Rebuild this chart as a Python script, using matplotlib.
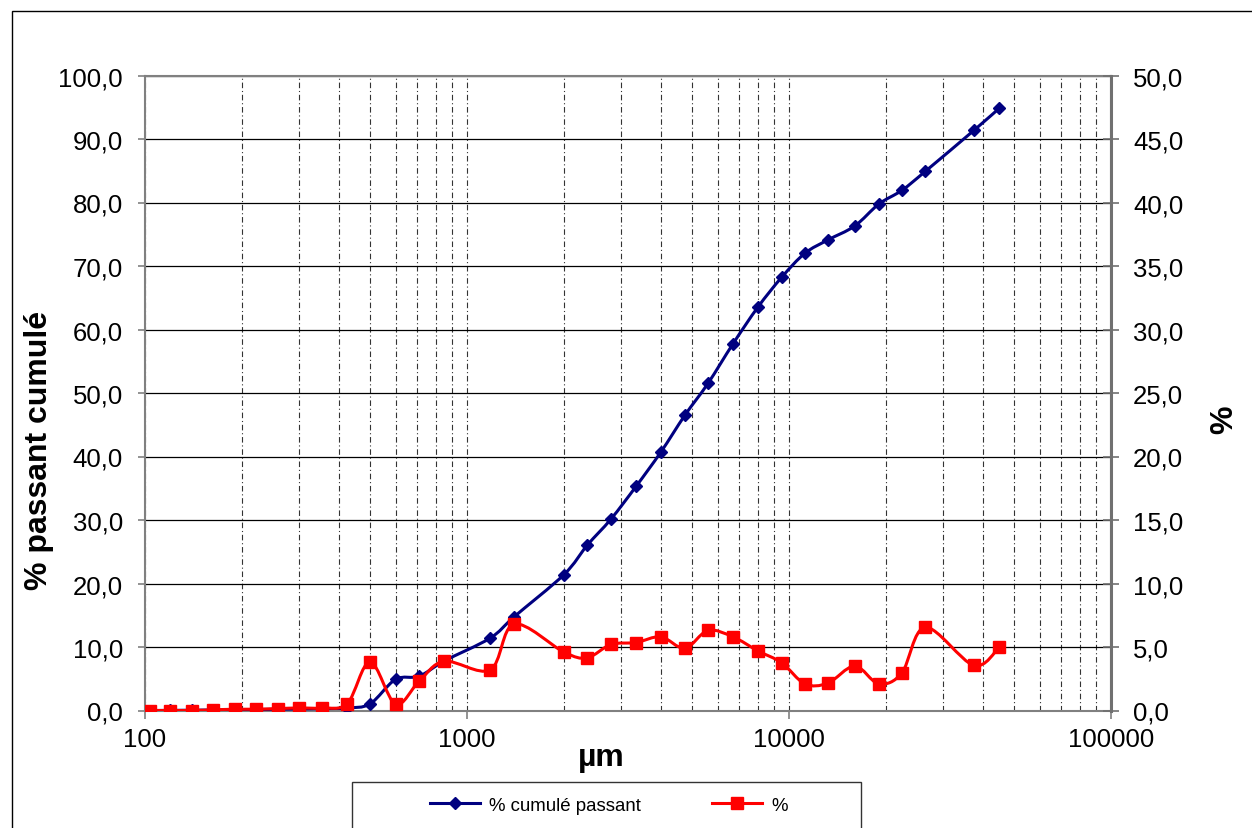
import numpy as np
import matplotlib.pyplot as plt
from matplotlib.path import Path
from matplotlib.patches import PathPatch, Rectangle
from matplotlib.lines import Line2D
from matplotlib.ticker import FixedLocator, FuncFormatter, NullFormatter

plt.rcParams['font.family'] = ['Liberation Sans', 'DejaVu Sans']

# sieve sizes (µm)
sizes = [104, 120, 140, 163, 190, 221, 258, 300, 355, 425, 500, 600, 710, 850,
         1180, 1400, 2000, 2360, 2800, 3350, 4000, 4750, 5600, 6700, 8000, 9500,
         11200, 13200, 16000, 19000, 22400, 26500, 37500, 45000]
# % cumulé passant (left axis)
cumul = [0.0, 0.02, 0.05, 0.08, 0.1, 0.15, 0.2, 0.25, 0.3, 0.4, 1.05, 4.9, 5.4, 7.8,
         11.4, 14.75, 21.4, 26.0, 30.15, 35.3, 40.7, 46.5, 51.5, 57.75, 63.5, 68.25,
         72.0, 74.1, 76.3, 79.75, 81.9, 84.9, 91.35, 94.85]
# % retained (right axis)
pct = [0.0, 0.0, 0.0, 0.05, 0.1, 0.1, 0.15, 0.2, 0.2, 0.55, 3.83, 0.5, 2.3, 3.88,
       3.2, 6.8, 4.6, 4.15, 5.2, 5.35, 5.8, 4.9, 6.3, 5.8, 4.7, 3.75,
       2.1, 2.15, 3.5, 2.1, 2.95, 6.55, 3.55, 5.0]

left_ticks = np.arange(0, 101, 10)
right_ticks = np.arange(0, 51, 5)
x_ticks = [100, 1000, 10000, 100000]


def smooth_path(x, y):
    # excel-like smoothed line: bezier segments built in log-x space
    lx = np.log10(np.asarray(x, float))
    y = np.asarray(y, float)
    n = len(lx)
    verts = [(x[0], y[0])]
    codes = [Path.MOVETO]
    for i in range(n - 1):
        i0 = max(i - 1, 0)
        i3 = min(i + 2, n - 1)
        c1x = lx[i] + (lx[i + 1] - lx[i0]) / 6
        c1y = y[i] + (y[i + 1] - y[i0]) / 6
        c2x = lx[i + 1] - (lx[i3] - lx[i]) / 6
        c2y = y[i + 1] - (y[i3] - y[i]) / 6
        verts += [(10 ** c1x, c1y), (10 ** c2x, c2y), (x[i + 1], y[i + 1])]
        codes += [Path.CURVE4] * 3
    return Path(verts, codes)


def comma(v, pos):
    return '{:.1f}'.format(v).replace('.', ',')


W, H = 1252, 829
fig = plt.figure(figsize=(W / 100, H / 100), dpi=100)
fig.patches.append(Rectangle((12 / W, -0.1), 2, 1 - 12 / H + 0.1,
                             transform=fig.transFigure, fill=False,
                             edgecolor='black', lw=1))

ax = fig.add_axes([145 / W, 1 - 711.5 / H, 966 / W, 635 / H])
ax.set_xscale('log')
ax.set_xlim(100, 100000)
ax.set_ylim(0, 100)
ax.xaxis.set_major_locator(FixedLocator(x_ticks))
ax.xaxis.set_major_formatter(FuncFormatter(lambda v, p: '%d' % v))
ax.xaxis.set_minor_formatter(NullFormatter())
ax.yaxis.set_major_locator(FixedLocator(left_ticks))
ax.yaxis.set_major_formatter(FuncFormatter(comma))

ax.grid(True, axis='y', which='major', color='black', lw=0.9, ls='-')
ax.grid(True, axis='x', which='both', color='#333333', lw=0.8,
        ls=(0, (5, 2.5, 1, 2.5)))
ax.set_axisbelow(True)

ax.tick_params(axis='x', which='major', direction='out', length=6, width=1.2,
               color='#808080', labelsize=18.5, pad=6)
ax.tick_params(axis='x', which='minor', length=0)
ax.tick_params(axis='y', direction='out', length=5, width=1.2,
               color='#808080', labelsize=18.5, pad=11)

for s in ax.spines.values():
    s.set_color('#808080')
    s.set_linewidth(1.5)

ax.add_patch(PathPatch(smooth_path(sizes, cumul), fill=False,
                       edgecolor='#000080', lw=2.2, zorder=3))
ax.plot(sizes, cumul, ls='none', marker='D', ms=6, color='#000080',
        zorder=4)

ax2 = ax.twinx()
ax2.set_ylim(0, 50)
ax2.yaxis.set_major_locator(FixedLocator(right_ticks))
ax2.yaxis.set_major_formatter(FuncFormatter(comma))
ax2.tick_params(axis='y', direction='inout', length=12, width=1.2,
                color='#707070', labelsize=18.5, pad=10)
for s in ax2.spines.values():
    s.set_visible(False)
ax2.spines['right'].set_visible(True)
ax2.spines['right'].set_color('#707070')
ax2.spines['right'].set_linewidth(2.2)

ax2.add_patch(PathPatch(smooth_path(sizes, pct), fill=False,
                        edgecolor='#FF0000', lw=2.2, zorder=3))
ax2.plot(sizes, pct, ls='none', marker='s', ms=9, color='#FF0000', zorder=4)

# axis titles
fig.text(39 / W, 1 - 450 / H, '% passant cumulé', rotation=90, ha='center',
         va='center', fontsize=23, fontweight='bold')
fig.text(1224 / W, 1 - 420 / H, '%', rotation=90, ha='center',
         va='center', fontsize=23, fontweight='bold')
fig.text(601 / W, 1 - 758 / H, 'µm', ha='center', va='center',
         fontsize=23, fontweight='bold')

# legend box at the bottom
fig.patches.append(Rectangle((352 / W, -0.05), 509 / W, 1 - 783 / H + 0.05,
                             transform=fig.transFigure, fill=False,
                             edgecolor='#333333', lw=1))
h1 = Line2D([], [], color='#000080', lw=2.2, marker='D', ms=6)
h2 = Line2D([], [], color='#FF0000', lw=2.2, marker='s', ms=9)
fig.legend([h1, h2], ['% cumulé passant', '%'], ncol=2, frameon=False,
           loc='center', bbox_to_anchor=(609 / W, 1 - 806 / H),
           fontsize=13.4, handlelength=2.7, columnspacing=3.8, handletextpad=0.5)

fig.savefig('out.png', dpi=100)
